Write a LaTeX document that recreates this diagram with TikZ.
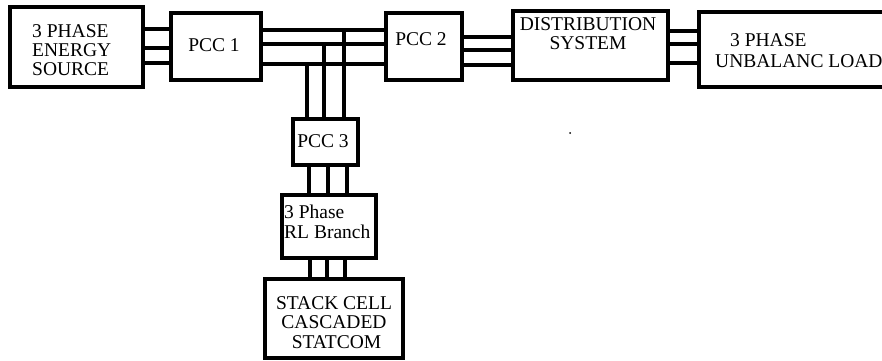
\documentclass[tikz,border=0pt]{standalone}
\usepackage{fontspec}
\setmainfont{Liberation Serif}
\begin{document}
\begin{tikzpicture}[x=1pt,y=-1pt,
  blk/.style={draw,line width=3.2pt,inner sep=0pt},
  wire/.style={line width=3.2pt},
  lbl/.style={inner sep=0pt,font=\fontsize{19.5}{19}\selectfont}]
\useasboundingbox (0,0) rectangle (882,360);
\clip (0,0) rectangle (882,360);
% blocks
\node[blk,minimum width=133,minimum height=80](src) at (76.5,47){};
\node[blk,minimum width=90,minimum height=67](pcc1) at (216,46.5){};
\node[blk,minimum width=76,minimum height=67](pcc2) at (424,46.5){};
\node[blk,minimum width=155,minimum height=69](dist) at (590.5,45.5){};
\node[blk,minimum width=200,minimum height=75](load) at (799,49.5){};
\node[blk,minimum width=65,minimum height=46](pcc3) at (325.5,142){};
\node[blk,minimum width=94,minimum height=63](rl) at (329,226.5){};
\node[blk,minimum width=138,minimum height=79](stat) at (334,318.5){};
% labels
\node[lbl,align=left,anchor=west] at (32,50){3 PHASE\\ENERGY\\SOURCE};
\node[lbl] at (214,45.5){PCC 1};
\node[lbl] at (421,39){PCC 2};
\node[lbl,align=center] at (588,34){DISTRIBUTION\\SYSTEM};
\node[lbl,align=left,anchor=west,font=\fontsize{19.5}{21}\selectfont] at (715,50.5){\hspace*{15pt}3 PHASE\\UNBALANC LOAD};
\node[lbl] at (323,141){PCC 3};
\node[lbl,align=left,anchor=west,font=\fontsize{19.5}{20}\selectfont] at (284,221.5){3 Phase\\RL Branch};
\node[lbl,align=center,font=\fontsize{19.5}{19.5}\selectfont] at (334,322.5){STACK CELL\\CASCADED\\\hspace*{5pt}STATCOM};
% three phase lines
\foreach \dy in {-18,1,16}
  \draw[wire]([shift={(0,\dy)}]src.east)--([shift={(0,\dy)}]src.east -| pcc1.west);
\foreach \dy [count=\i] in {-16.5,-2.5,17.5}{
  \coordinate (bus\i) at ([shift={(0,\dy)}]pcc1.east);
  \draw[wire](bus\i)--(bus\i -| pcc2.west);
}
\foreach \dy in {-9.5,3.5,18.5}
  \draw[wire]([shift={(0,\dy)}]pcc2.east)--([shift={(0,\dy)}]pcc2.east -| dist.west);
\foreach \dy in {-14.5,-1.5,17.5}
  \draw[wire]([shift={(0,\dy)}]dist.east)--([shift={(0,\dy)}]dist.east -| load.west);
\foreach \dx/\b in {18.5/1,-1.5/2,-18.5/3}
  \draw[wire]([shift={(\dx,0)}]pcc3.north)--([shift={(\dx,0)}]pcc3.north |- bus\b);
\foreach \dx in {-16.5,2.5,21.5}
  \draw[wire]([shift={(\dx,0)}]pcc3.south)--([shift={(\dx,0)}]pcc3.south |- rl.north);
\foreach \dx in {-19,-2,16}
  \draw[wire]([shift={(\dx,0)}]rl.south)--([shift={(\dx,0)}]rl.south |- stat.north);
\fill (570,133) circle (1pt);

\end{tikzpicture}
\end{document}
